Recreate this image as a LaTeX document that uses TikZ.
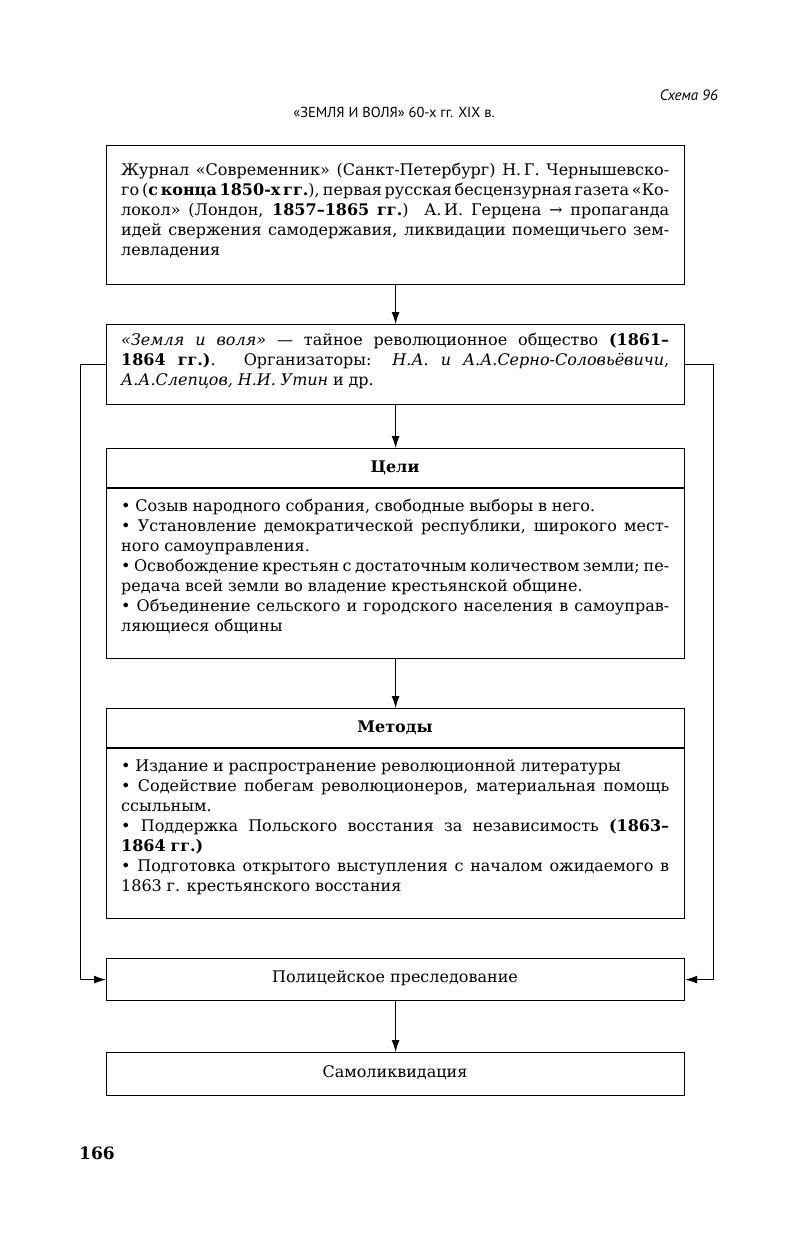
\documentclass[tikz,border=0pt]{standalone}
\usepackage{fontspec}
\setmainfont{DejaVu Serif}
\newfontfamily\hdr{PT Sans}
\usetikzlibrary{arrows.meta}
\newcommand{\txtfont}{\fontsize{16}{20}\selectfont\spaceskip=0.3em plus 0.8em minus 0.15em}
\begin{document}
\begin{tikzpicture}[x=1pt,y=-1pt,
  box/.style={draw,line width=1.2pt,minimum width=578pt,anchor=north west,inner sep=0pt},
  txt/.style={anchor=north west,text width=548pt,align=justify,inner sep=0pt,font=\txtfont},
  lbl/.style={inner sep=0pt,font=\fontsize{16}{20}\selectfont},
  arr/.style={line width=1pt,-{Latex[length=12pt,width=8pt]}}]
\useasboundingbox[fill=white] (0,0) rectangle (791,1245);

% header
\node[anchor=base east,inner sep=0pt,font=\hdr\itshape\fontsize{15}{16}\selectfont] (schema) at (718,100) {Схема 96};
\node[inner sep=0pt,font=\hdr\fontsize{14.5}{16}\selectfont] (title) at (394,112) {«ЗЕМЛЯ И ВОЛЯ» 60-х гг. XIX в.};

% box 1
\node[box,minimum height=139pt] (b1) at (106,145) {};
\node[txt] (t1) at (121,163) {Журнал «Современник» (Санкт-Петербург) Н.\,Г. Чернышевско-\linebreak го (\textbf{с конца 1850-х гг.}), первая русская бесцензурная газета «Ко-\linebreak локол» (Лондон, \textbf{1857–1865 гг.}) А.\,И. Герцена → пропаганда\linebreak идей свержения самодержавия, ликвидации помещичьего зем-\linebreak левладения};

% box 2
\node[box,minimum height=80pt] (b2) at (106,324) {};
\node[txt] (t2) at (121,333) {\textit{«Земля и воля»} — тайное революционное общество \textbf{(1861–}\linebreak \textbf{1864 гг.)}. Организаторы: \textit{Н.А.} \textit{и} \textit{А.А.Серно-Соловьёвичи},\linebreak \textit{А.А.Слепцов, Н.И. Утин} и др.};

% goals
\node[box,minimum height=210pt] (g) at (106,448) {};
\node[lbl] (gh) at (395,468) {\textbf{Цели}};
\draw[line width=1.2pt] ([yshift=-40pt]g.north west) -- ([yshift=-40pt]g.north east);
\node[txt] (gt) at (121,499) {• Созыв народного собрания, свободные выборы в него.\par
• Установление демократической республики, широкого мест-\linebreak ного самоуправления.\par
• Освобождение крестьян с достаточным количеством земли; пе-\linebreak редача всей земли во владение крестьянской общине.\par
• Объединение сельского и городского населения в самоуправ-\linebreak ляющиеся общины};

% methods
\node[box,minimum height=210pt] (m) at (106,708) {};
\node[lbl] (mh) at (395,728) {\textbf{Методы}};
\draw[line width=1.2pt] ([yshift=-40pt]m.north west) -- ([yshift=-40pt]m.north east);
\node[txt] (mt) at (121,759) {• Издание и распространение революционной литературы\par
• Содействие побегам революционеров, материальная помощь\linebreak ссыльным.\par
• Поддержка Польского восстания за независимость \textbf{(1863–}\linebreak \textbf{1864 гг.)}\par
• Подготовка открытого выступления с началом ожидаемого в\linebreak 1863 г. крестьянского восстания};

% police
\node[box,minimum height=42pt] (p) at (106,958) {};
\node[lbl] (pt) at (395,978) {Полицейское преследование};

% self-liquidation
\node[box,minimum height=43pt] (s) at (106,1052) {};
\node[lbl] (st) at (395,1073) {Самоликвидация};

% page number
\node[anchor=base west,inner sep=0pt,font=\bfseries\fontsize{17}{18}\selectfont] (page) at (79,1159) {166};

% connectors
\draw[arr] (b1.south) -- (b2.north);
\draw[arr] (b2.south) -- (g.north);
\draw[arr] (g.south) -- (m.north);
\draw[arr] (p.south) -- (s.north);
\draw[arr] (b2.west) -- ++(-26,0) |- (p.west);
\draw[arr] (b2.east) -- ++(28,0) |- (p.east);
\end{tikzpicture}
\end{document}
